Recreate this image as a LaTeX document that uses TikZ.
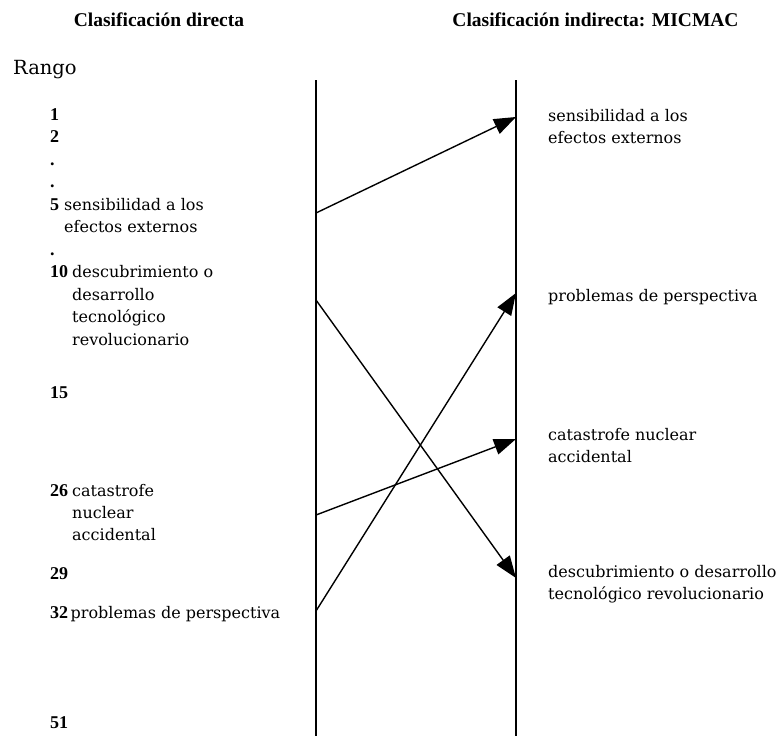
\documentclass[tikz,border=0pt]{standalone}
\usepackage{fontspec}
\setmainfont{DejaVu Serif}
\newfontfamily\numfont{Liberation Serif}
\newfontfamily\headfont{Liberation Serif}
\usetikzlibrary{arrows.meta}

\tikzset{
  txt/.style={anchor=base west, inner sep=0pt, font=\fontsize{16}{19}\selectfont},
  num/.style={anchor=base west, inner sep=0pt, font=\numfont\bfseries\fontsize{18}{21}\selectfont},
  head/.style={anchor=base, inner sep=0pt, font=\headfont\bfseries\fontsize{19.5}{22}\selectfont},
  rank/.style={anchor=base west, inner sep=0pt, font=\fontsize{19.5}{22}\selectfont},
  axisline/.style={line width=1.6pt},
  link/.style={line width=1.4pt, -{Triangle[length=22pt,width=16pt]}}
}

\begin{document}
\begin{tikzpicture}[x=1pt,y=-1pt]
\useasboundingbox (0,0) rectangle (780,736);

% column headings
\node[head] (hdir) at (159,26) {Clasificación directa};
\node[head] (hind) at (595.5,27) {Clasificación indirecta: MICMAC};
\node[rank] (rango) at (13,74) {Rango};

% the two ranking axes
\coordinate (ltop) at (316,80);
\coordinate (lbot) at (316,736);
\coordinate (rtop) at (516,80);
\coordinate (rbot) at (516,736);
\draw[axisline] (ltop) -- (lbot);
\draw[axisline] (rtop) -- (rbot);

% direct ranking (left)
\node[num] (n1) at (50,120) {1};
\node[num] (n2) at (50,142.5) {2};
\node[num] (d1) at (50,165) {.};
\node[num] (d2) at (50,187.5) {.};
\node[num] (n5) at (50,210) {5};
\node[txt] (l5a) at (64,210) {sensibilidad a los};
\node[txt] (l5b) at (64,232.5) {efectos externos};
\node[num] (d3) at (50,255) {.};
\node[num] (n10) at (50,277.5) {10};
\node[txt] (l10a) at (72,277.5) {descubrimiento o};
\node[txt] (l10b) at (72,300) {desarrollo};
\node[txt] (l10c) at (72,322.5) {tecnológico};
\node[txt] (l10d) at (72,345) {revolucionario};
\node[num] (n15) at (50,398) {15};
\node[num] (n26) at (50,496) {26};
\node[txt] (l26a) at (72,496) {catastrofe};
\node[txt] (l26b) at (72,518) {nuclear};
\node[txt] (l26c) at (72,540) {accidental};
\node[num] (n29) at (50,579) {29};
\node[num] (n32) at (50,618) {32};
\node[txt] (l32) at (70.5,618) {problemas de perspectiva};
\node[num] (n51) at (50,728) {51};

% indirect ranking (right)
\node[txt] (r1a) at (548,121) {sensibilidad a los};
\node[txt] (r1b) at (548,143.5) {efectos externos};
\node[txt] (r2) at (548,301) {problemas de perspectiva};
\node[txt] (r3a) at (548,440) {catastrofe nuclear};
\node[txt] (r3b) at (548,462.5) {accidental};
\node[txt] (r4a) at (548,577) {descubrimiento o desarrollo};
\node[txt] (r4b) at (548,599.5) {tecnológico revolucionario};

% rank shifts
\coordinate (s5) at (316,213);
\coordinate (s10) at (316,300);
\coordinate (s26) at (316,515);
\coordinate (s32) at (316,611);
\coordinate (t1) at (516,117);
\coordinate (t2) at (516,293);
\coordinate (t3) at (516,439);
\coordinate (t4) at (516,578);

\draw[link] (s5) -- (t1);
\draw[link] (s10) -- (t4);
\draw[link] (s26) -- (t3);
\draw[link] (s32) -- (t2);
\end{tikzpicture}
\end{document}
